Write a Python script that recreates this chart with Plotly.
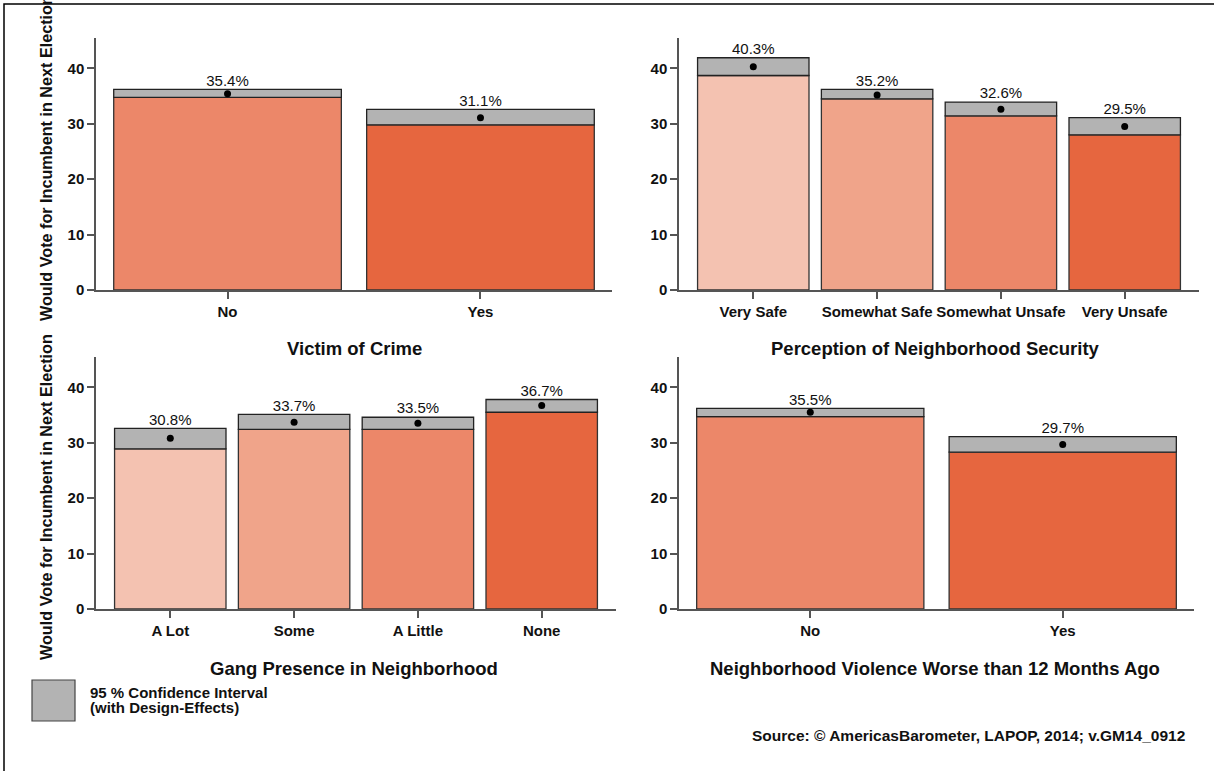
import plotly.graph_objects as go

W, H = 1214, 771

# ---- data ----
cat1 = ["No", "Yes"]
val1 = [35.4, 31.1]
lo1 = [34.75, 29.8]
hi1 = [36.2, 32.6]

cat2 = ["Very Safe", "Somewhat Safe", "Somewhat Unsafe", "Very Unsafe"]
val2 = [40.3, 35.2, 32.6, 29.5]
lo2 = [38.7, 34.5, 31.4, 28.0]
hi2 = [41.9, 36.2, 33.9, 31.1]

cat3 = ["A Lot", "Some", "A Little", "None"]
val3 = [30.8, 33.7, 33.5, 36.7]
lo3 = [28.9, 32.4, 32.4, 35.5]
hi3 = [32.6, 35.1, 34.6, 37.8]

cat4 = ["No", "Yes"]
val4 = [35.5, 29.7]
lo4 = [34.7, 28.3]
hi4 = [36.2, 31.1]

titles = ["Victim of Crime", "Perception of Neighborhood Security",
          "Gang Presence in Neighborhood", "Neighborhood Violence Worse than 12 Months Ago"]
ytitle = "Would Vote for Incumbent in Next Election"
yticks = [0, 10, 20, 30, 40]

# ---- style ----
C1, C2, C3, C4 = "#F4C2B1", "#F0A48A", "#EC8769", "#E6663F"
GRAY = "#B3B3B3"
FONT = "Liberation Sans"

def px_x(p):
    return p / W

def px_y(p):
    return 1 - p / H

panels = [
    dict(cat=cat1, val=val1, lo=lo1, hi=hi1, colors=[C3, C4], xd=(96, 612), yd=(290, 38), xr=[-0.52, 1.52]),
    dict(cat=cat2, val=val2, lo=lo2, hi=hi2, colors=[C1, C2, C3, C4], xd=(679, 1199), yd=(290, 38), xr=[-0.6, 3.6]),
    dict(cat=cat3, val=val3, lo=lo3, hi=hi3, colors=[C1, C2, C3, C4], xd=(96, 616), yd=(609, 357), xr=[-0.6, 3.6]),
    dict(cat=cat4, val=val4, lo=lo4, hi=hi4, colors=[C3, C4], xd=(679, 1194), yd=(609, 357), xr=[-0.52, 1.52]),
]

fig = go.Figure()
layout = dict(
    width=W, height=H, autosize=False,
    margin=dict(l=0, r=0, t=0, b=0, pad=0, autoexpand=False),
    paper_bgcolor="white", plot_bgcolor="white",
    showlegend=False, barmode="overlay",
    font=dict(family=FONT, color="black"),
)
annotations = []
shapes = []

for i, p in enumerate(panels):
    n = i + 1
    xa = "x" if n == 1 else f"x{n}"
    ya = "y" if n == 1 else f"y{n}"
    fig.add_trace(go.Bar(
        x=p["cat"], y=p["lo"], width=0.9, xaxis=xa, yaxis=ya,
        marker=dict(color=p["colors"], line=dict(color="#333333", width=1.3)),
        hoverinfo="skip"))
    fig.add_trace(go.Bar(
        x=p["cat"], y=[h - l for h, l in zip(p["hi"], p["lo"])], base=p["lo"],
        width=0.9, xaxis=xa, yaxis=ya,
        marker=dict(color=GRAY, line=dict(color="#222222", width=1.3)),
        hoverinfo="skip"))
    fig.add_trace(go.Scatter(
        x=p["cat"], y=p["val"], mode="markers", xaxis=xa, yaxis=ya,
        marker=dict(color="black", size=7), hoverinfo="skip"))
    fig.add_trace(go.Scatter(
        x=p["cat"], y=p["hi"], mode="text", xaxis=xa, yaxis=ya,
        text=[f"{v:.1f}%" for v in p["val"]], textposition="top center",
        textfont=dict(family=FONT, size=15, color="#111111"), hoverinfo="skip"))

    axkey_x = "xaxis" if n == 1 else f"xaxis{n}"
    axkey_y = "yaxis" if n == 1 else f"yaxis{n}"
    y0, y1 = p["yd"]
    span = (y0 - y1) / (290 - 68.3) * 40.0
    layout[axkey_x] = dict(
        domain=[px_x(p["xd"][0]), px_x(p["xd"][1])], anchor=ya, type="category",
        range=p["xr"], showline=True, linecolor="#555555", linewidth=1.5,
        ticks="outside", ticklen=7, tickwidth=1.5, tickcolor="#555555",
        showgrid=False, zeroline=False, automargin=False,
        tickfont=dict(family=FONT, size=15, color="#111111", weight="bold"))
    layout[axkey_y] = dict(
        domain=[px_y(y0), px_y(y1)], anchor=xa, range=[0, span],
        tickvals=yticks, showline=True, linecolor="#555555", linewidth=1.5,
        ticks="outside", ticklen=7, tickwidth=1.5, tickcolor="#555555",
        showgrid=False, zeroline=False, automargin=False,
        tickfont=dict(family=FONT, size=15, color="#111111", weight="bold"))

    cx = 935 if n in (2, 4) else 354
    ty = 349 if n <= 2 else 668
    annotations.append(dict(
        text=titles[i], x=px_x(cx), y=px_y(ty), xref="paper", yref="paper",
        xanchor="center", yanchor="middle", showarrow=False,
        font=dict(family=FONT, size=18.5, color="#111111", weight="bold")))

# y-axis titles (left panels)
for cy in (158, 497):
    annotations.append(dict(
        text=ytitle, x=px_x(46), y=px_y(cy), xref="paper", yref="paper",
        xanchor="center", yanchor="middle", textangle=-90, showarrow=False,
        font=dict(family=FONT, size=16.2, color="#111111", weight="bold")))

# legend
shapes.append(dict(type="rect", xref="paper", yref="paper",
                   x0=px_x(32), x1=px_x(75), y0=px_y(721), y1=px_y(680),
                   fillcolor=GRAY, line=dict(color="#444444", width=1.2)))
for txt, ly in (("95 % Confidence Interval", 692.5), ("(with Design-Effects)", 707)):
    annotations.append(dict(
        text=txt, x=px_x(88), y=px_y(ly),
        xref="paper", yref="paper", xanchor="left", yanchor="middle", align="left",
        showarrow=False, font=dict(family=FONT, size=15, color="#111111", weight="bold")))

# source
annotations.append(dict(
    text="Source: © AmericasBarometer, LAPOP, 2014; v.GM14_0912", x=px_x(1187), y=px_y(735),
    xref="paper", yref="paper", xanchor="right", yanchor="middle", showarrow=False,
    font=dict(family=FONT, size=15.5, color="#111111", weight="bold")))

# outer frame
shapes.append(dict(type="rect", xref="paper", yref="paper",
                   x0=px_x(4), x1=1.02, y0=-0.02, y1=px_y(4),
                   line=dict(color="black", width=1.5), fillcolor="rgba(0,0,0,0)"))

layout["annotations"] = annotations
layout["shapes"] = shapes
fig.update_layout(**layout)

post = (
    "document.documentElement.style.overflow='hidden';"
    "document.body.style.margin='0';"
    "document.body.style.overflow='hidden';"
)

fig.write_html("out.html", config={"displayModeBar": False}, post_script=post)
